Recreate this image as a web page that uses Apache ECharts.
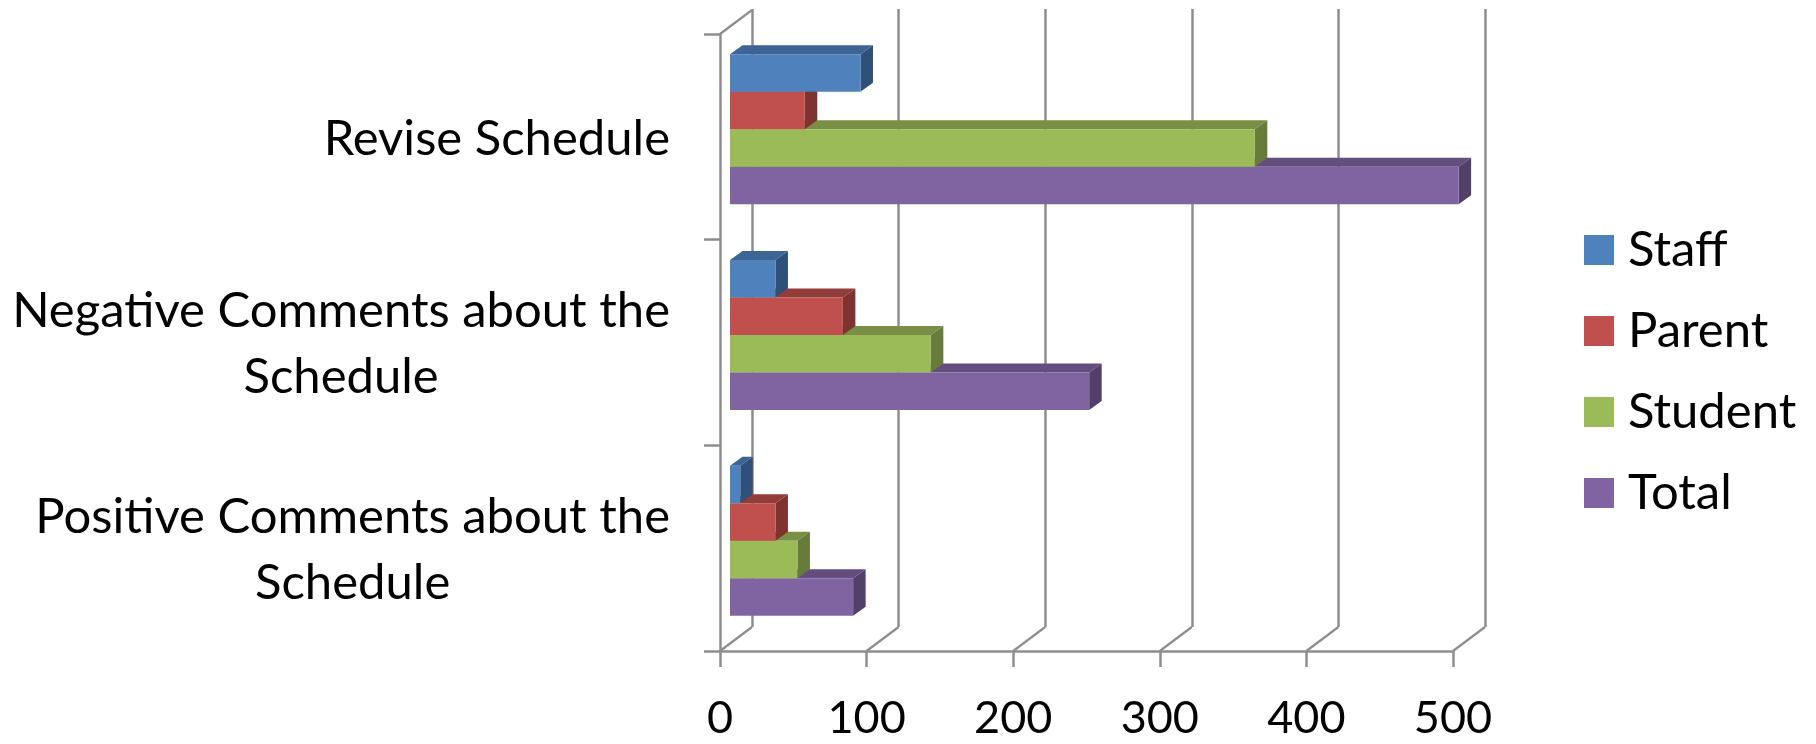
<!DOCTYPE html>
<html><head><meta charset="utf-8">
<style>html,body{margin:0;padding:0;background:#fff}#c{width:1816px;height:744px}</style>
<script src="https://cdn.jsdelivr.net/npm/echarts@6/dist/echarts.min.js"></script>
</head><body><div id="c"></div>
<script>
const categories = ['Positive Comments about the\nSchedule', 'Negative Comments about the\nSchedule', 'Revise Schedule'];
const staff = [7, 31, 89];
const parent = [31, 77, 51];
const student = [46, 137, 358];
const total = [84, 245, 497];
const xTicks = [0, 100, 200, 300, 400, 500];

const FONT = 'Lato';
const GRID = '#8e8e8e';
const WALL_DX = 32, WALL_DY = -24;       // depth of the chart's back wall
const BAR_DX = 12.5, BAR_DY = -9;        // depth of each 3-D bar
const BAR_OFF_X = 10, BAR_OFF_Y = -7.5;  // bars stand inside the floor
const BAR_H = 37.5;

function barRenderer(slot, colors) {
  return function (params, api) {
    const p = api.coord([api.value(0), api.value(1)]);
    const o = api.coord([0, api.value(1)]);
    const x0 = o[0] + BAR_OFF_X, x1 = p[0] + BAR_OFF_X;
    const y0 = p[1] + BAR_OFF_Y + (slot - 2) * BAR_H, y1 = y0 + BAR_H;
    const poly = (pts, fill) => ({ type: 'polygon', shape: { points: pts }, style: { fill: fill } });
    return { type: 'group', children: [
      poly([[x0, y0], [x1, y0], [x1 + BAR_DX, y0 + BAR_DY], [x0 + BAR_DX, y0 + BAR_DY]], colors[1]),
      poly([[x1, y0], [x1 + BAR_DX, y0 + BAR_DY], [x1 + BAR_DX, y1 + BAR_DY], [x1, y1]], colors[2]),
      { type: 'rect', shape: { x: x0, y: y0, width: x1 - x0, height: BAR_H }, style: { fill: colors[0] } }
    ] };
  };
}
function barSeries(name, values, slot, colors, z) {
  return {
    name: name, type: 'custom', xAxisIndex: 0, yAxisIndex: 0, z: z,
    itemStyle: { color: colors[0] },
    data: values.map((v, i) => [v, i]),
    encode: { x: 0, y: 1 },
    renderItem: barRenderer(slot, colors)
  };
}
const wallSeries = {
  type: 'custom', xAxisIndex: 0, yAxisIndex: 0, z: 1, silent: true,
  data: xTicks.map(v => [v, 0]),
  encode: { x: 0, y: 1 },
  renderItem: function (params, api) {
    const cs = params.coordSys;
    const x = api.coord([api.value(0), 0])[0];
    const yB = cs.y + cs.height;
    const line = (a, b, c, d) => ({ type: 'line', shape: { x1: a, y1: b, x2: c, y2: d }, style: { stroke: GRID, lineWidth: 2.2 } });
    const kids = [line(x, yB, x + WALL_DX, yB + WALL_DY)];
    if (api.value(0) === 0) kids.push(line(x, cs.y, x + WALL_DX, cs.y + WALL_DY));
    return { type: 'group', children: kids };
  }
};

const chart = echarts.init(document.getElementById('c'), null, { renderer: 'canvas' });
chart.setOption({
  animation: false,
  backgroundColor: '#ffffff',
  textStyle: { fontFamily: FONT },
  grid: [
    { left: 720, top: 34, width: 733, height: 617 },
    { left: 752, top: 9, width: 733, height: 618 }
  ],
  legend: {
    left: 1584, top: 220, orient: 'vertical', padding: 0, itemWidth: 30, itemHeight: 30, itemGap: 21,
    icon: 'rect', selectedMode: false,
    data: ['Staff', 'Parent', 'Student', 'Total'],
    textStyle: { fontFamily: FONT, fontSize: 49, color: '#000', padding: [0, 0, 0, 9], lineHeight: 60 }
  },
  xAxis: [
    { type: 'value', gridIndex: 0, min: 0, max: 500, interval: 100, splitLine: { show: false },
      axisLine: { show: true, lineStyle: { color: GRID, width: 2.5 } },
      axisTick: { show: true, length: 16, lineStyle: { color: GRID, width: 2.5 } },
      axisLabel: { show: true, margin: 45, fontFamily: FONT, fontSize: 45, color: '#000', hideOverlap: false } },
    { type: 'value', gridIndex: 1, min: 0, max: 500, interval: 100, axisLine: { show: false }, axisTick: { show: false }, axisLabel: { show: false },
      splitLine: { show: true, lineStyle: { color: GRID, width: 2.5 } } }
  ],
  yAxis: [
    { type: 'category', gridIndex: 0, data: categories,
      axisLine: { show: true, onZero: false, lineStyle: { color: GRID, width: 2.5 } },
      axisTick: { show: true, length: 16, lineStyle: { color: GRID, width: 2.5 } },
      axisLabel: { show: true, margin: 50, interval: 0,
        formatter: v => v.split('\n').map(s => '{a|' + s + '}').join('\n'),
        padding: [4, 0, 0, 0],
        rich: { a: { fontFamily: FONT, fontSize: 49, color: '#000', lineHeight: 66, align: 'center' } } } },
    { type: 'value', gridIndex: 1, show: false, min: 0, max: 1 }
  ],
  series: [
    wallSeries,
    barSeries('Staff', staff, 0, ['#4F81BD', '#3C6494', '#2F5078'], 6),
    barSeries('Parent', parent, 1, ['#C0504D', '#933D3A', '#7E3330'], 5),
    barSeries('Student', student, 2, ['#9BBB59', '#798F45', '#677B3B'], 4),
    barSeries('Total', total, 3, ['#8064A2', '#634E7E', '#534069'], 3)
  ]
});
</script></body></html>
